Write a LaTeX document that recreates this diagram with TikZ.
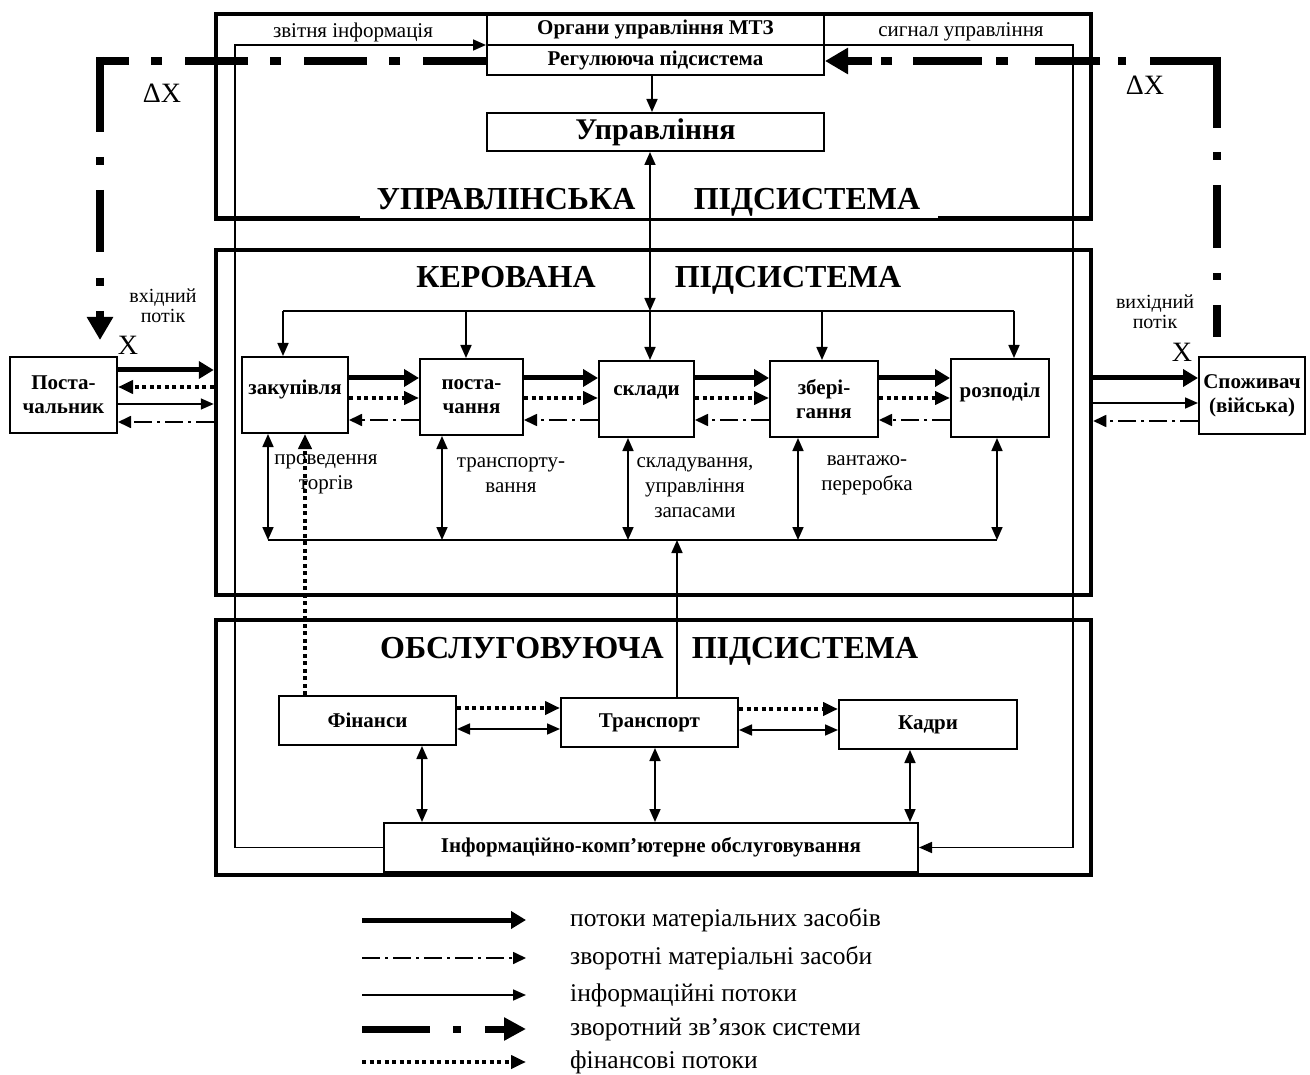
\documentclass[tikz,border=0pt]{standalone}
\usepackage{fontspec}
\setmainfont{Liberation Serif}
\usetikzlibrary{arrows.meta}
\begin{document}
\begin{tikzpicture}[x=1pt,y=-1pt,
 frame/.style={draw,line width=4.5pt,inner sep=0pt},
 box/.style={draw,line width=2pt,inner sep=1pt,align=center,font=\bfseries\fontsize{21}{24}\selectfont},
 up6/.style={text depth=16pt},
 lbl/.style={inner sep=0pt,align=center,font=\fontsize{21}{25}\selectfont},
 lbls/.style={inner sep=0pt,align=center,font=\fontsize{20}{20}\selectfont},
 ttl/.style={inner sep=0pt,anchor=base,font=\bfseries\fontsize{32}{36}\selectfont},
 big/.style={inner sep=0pt,font=\fontsize{28}{30}\selectfont},
 leg/.style={inner sep=0pt,anchor=base west,font=\fontsize{25.5}{28}\selectfont},
 info/.style={line width=1.7pt,-{Triangle[length=13pt,width=11pt]}},
 info2/.style={line width=1.7pt,{Triangle[length=13pt,width=11pt]}-{Triangle[length=13pt,width=11pt]}},
 plain/.style={line width=1.7pt},
 matf/.style={line width=5pt,-{Triangle[length=15pt,width=17pt]}},
 finf/.style={line width=4pt,dash pattern=on 4pt off 3.5pt,-{Triangle[length=15pt,width=13pt]}},
 retf/.style={line width=1.7pt,dash pattern=on 18pt off 5pt on 3pt off 5pt,-{Triangle[length=13pt,width=12pt]}},
 fbline/.style={line width=8pt},
 fbtip/.style={-{Triangle[length=23pt,width=25pt]}},
 fbleg/.style={line width=7pt,dash pattern=on 68pt off 23pt on 8pt off 24pt on 100pt off 1pt,-{Triangle[length=22pt,width=22pt]}},
]
\useasboundingbox (0,0) rectangle (1310,1075);
% frames
\node[frame,minimum width=875pt,minimum height=204.5pt] (ftop) at (653.5,116.25) {};
\node[frame,minimum width=875pt,minimum height=345pt] (fmid) at (653.5,422.5) {};
\node[frame,minimum width=875pt,minimum height=255pt] (fbot) at (653.5,747.5) {};
\fill[white] (360,183) rectangle (938,217.8);
% titles
\node[ttl] (t1a) at (506,209.5) {УПРАВЛІНСЬКА};
\node[ttl] (t1b) at (807,209.5) {ПІДСИСТЕМА};
\node[ttl] (t2a) at (506,287.5) {КЕРОВАНА};
\node[ttl] (t2b) at (788,287.5) {ПІДСИСТЕМА};
\node[ttl] (t3a) at (522,658.5) {ОБСЛУГОВУЮЧА};
\node[ttl] (t3b) at (805,658.5) {ПІДСИСТЕМА};
% boxes
\node[box,minimum width=337pt,minimum height=31pt] (org) at (655.5,29.5) {Органи управління МТЗ};
\node[box,minimum width=337pt,minimum height=30pt] (reg) at (655.5,60) {Регулююча підсистема};
\node[box,minimum width=337pt,minimum height=38pt,font=\bfseries\fontsize{30}{34}\selectfont] (upr) at (655.5,132) {Управління};
\node[box,up6,minimum width=106pt,minimum height=76pt] (zak) at (295,395) {закупівля};
\node[box,minimum width=103pt,minimum height=76pt] (post) at (471.5,397) {поста-\\чання};
\node[box,up6,minimum width=95pt,minimum height=76pt] (skl) at (646.5,399) {склади};
\node[box,minimum width=108pt,minimum height=76pt] (zber) at (824,399) {збері-\\гання};
\node[box,up6,minimum width=98pt,minimum height=78pt] (rozp) at (1000,398) {розподіл};
\node[box,minimum width=107pt,minimum height=76pt] (postach) at (63.5,395) {Поста-\\чальник};
\node[box,minimum width=106pt,minimum height=77pt] (spoz) at (1252,395.5) {Споживач\\(війська)};
\node[box,minimum width=177pt,minimum height=49pt] (nfin) at (367.5,720.5) {Фінанси};
\node[box,minimum width=177pt,minimum height=49pt] (trans) at (649.5,722.5) {Транспорт};
\node[box,minimum width=178pt,minimum height=49pt] (kadr) at (928,724.5) {Кадри};
\node[box,minimum width=534pt,minimum height=49pt] (inf) at (651,847.5) {Інформаційно-комп’ютерне обслуговування};
% labels
\node[lbl] (lprov) at (326,474.5) {проведення\\торгів};
\node[lbl] (ltr) at (511,475.5) {транспорту-\\вання};
\node[lbl] (lskl) at (695,488) {складування,\\управління\\запасами};
\node[lbl] (lvan) at (867,475.5) {вантажо-\\переробка};
\node[lbl] (lzv) at (353,32) {звітня інформація};
\node[lbl] (lsig) at (961,32) {сигнал управління};
\node[lbls] (lin) at (163,306) {вхідний\\потік};
\node[lbls] (lout) at (1155,312) {вихідний\\потік};
\node[big] (x1) at (128,345) {X};
\node[big] (x2) at (1182,352) {X};
\node[big] (dx1) at (162,93) {ΔX};
\node[big] (dx2) at (1145,85) {ΔX};
% top connections
\draw[info] (reg.south -| 652,0) -- (upr.north -| 652,0);
\coordinate (t1) at (283,311);
\coordinate (t2) at (466,311);
\coordinate (t3) at (650,311);
\coordinate (t4) at (822,311);
\coordinate (t5) at (1014,311);
\draw[info2] (upr.south -| t3) -- (t3);
\draw[plain] (t1) -- (t5);
\draw[info] (t1) -- (t1 |- zak.north);
\draw[info] (t2) -- (t2 |- post.north);
\draw[info] (t3) -- (t3 |- skl.north);
\draw[info] (t4) -- (t4 |- zber.north);
\draw[info] (t5) -- (t5 |- rozp.north);
% lower bus
\coordinate (b1) at (268,540);
\coordinate (b2) at (442,540);
\coordinate (b3) at (628,540);
\coordinate (b4) at (798,540);
\coordinate (b5) at (997,540);
\coordinate (b6) at (677,540);
\draw[plain] (b1) -- (b5);
\draw[info2] (b1 |- zak.south) -- (b1);
\draw[info2] (b2 |- post.south) -- (b2);
\draw[info2] (b3 |- skl.south) -- (b3);
\draw[info2] (b4 |- zber.south) -- (b4);
\draw[info2] (b5 |- rozp.south) -- (b5);
\draw[info] (trans.north -| b6) -- (b6);
\draw[finf] (nfin.north -| 305,0) -- (zak.south -| 305,0);
% flows between stages
\foreach \a/\b in {zak/post,post/skl,skl/zber,zber/rozp}{
 \draw[matf] (\a.east |- 0,378) -- (\b.west |- 0,378);
 \draw[finf] (\a.east |- 0,398) -- (\b.west |- 0,398);
 \draw[retf] (\b.west |- 0,420) -- (\a.east |- 0,420);
}
% side flows
\draw[matf] (postach.east |- 0,370) -- (fmid.west |- 0,370);
\draw[finf] (fmid.west |- 0,387) -- (postach.east |- 0,387);
\draw[info] (postach.east |- 0,404) -- (fmid.west |- 0,404);
\draw[retf] (fmid.west |- 0,422) -- (postach.east |- 0,422);
\draw[matf] (fmid.east |- 0,378) -- (spoz.west |- 0,378);
\draw[info] (fmid.east |- 0,403) -- (spoz.west |- 0,403);
\draw[retf] (spoz.west |- 0,421) -- (fmid.east |- 0,421);
% service subsystem
\draw[finf] (nfin.east |- 0,708) -- (trans.west |- 0,708);
\draw[info2] (nfin.east |- 0,729) -- (trans.west |- 0,729);
\draw[finf] (trans.east |- 0,709) -- (kadr.west |- 0,709);
\draw[info2] (trans.east |- 0,730) -- (kadr.west |- 0,730);
\draw[info2] (nfin.south -| 422,0) -- (inf.north -| 422,0);
\draw[info2] (trans.south -| 655,0) -- (inf.north -| 655,0);
\draw[info2] (kadr.south -| 910,0) -- (inf.north -| 910,0);
% info loop
\coordinate (cl) at (235,45);
\coordinate (cr) at (1073,45);
\draw[info] (inf.west) -| (cl) -- (cl -| reg.west);
\draw[info] (org.east |- cr) -- (cr) |- (inf.east);
% feedback (left: regulating subsystem -> supplier)
\coordinate (fl) at (100,61);
\coordinate (fr) at (1217,61);
\draw[fbline,dash pattern=on 63pt off 23pt on 11pt off 22pt] (reg.west |- fl) -- (fl);
\draw[fbline,fbtip,shorten <=-4pt,shorten >=16pt,
  dash pattern=on 75pt off 25pt on 8pt off 25pt on 62pt off 26pt on 8pt off 25pt on 200pt off 1pt]
  (fl) -- (fl |- postach.north);
% feedback (right: consumer -> regulating subsystem)
\draw[fbline,shorten <=-4pt,shorten >=19pt,
  dash pattern=on 71pt off 24pt on 8pt off 25pt on 63pt off 25pt on 7pt off 25pt on 100pt off 1pt]
  (fr) -- (fr |- spoz.north);
\draw[fbline,fbtip,
  dash pattern=on 67pt off 24pt on 8pt off 18pt on 65pt off 27pt on 12pt off 14pt on 69pt off 21pt on 11pt off 9pt on 100pt off 1pt]
  (fr) -- (reg.east |- fr);
% legend
\coordinate (la1) at (362,920); \coordinate (lb1) at (526,920);
\coordinate (la2) at (362,958); \coordinate (lb2) at (526,958);
\coordinate (la3) at (362,995); \coordinate (lb3) at (526,995);
\coordinate (la4) at (362,1029); \coordinate (lb4) at (526,1029);
\coordinate (la5) at (362,1062); \coordinate (lb5) at (526,1062);
\draw[matf] (la1) -- (lb1);
\draw[retf] (la2) -- (lb2);
\draw[info] (la3) -- (lb3);
\draw[fbleg] (la4) -- (lb4);
\draw[finf] (la5) -- (lb5);
\node[leg] (lt1) at (570,926) {потоки матеріальних засобів};
\node[leg] (lt2) at (570,964) {зворотні матеріальні засоби};
\node[leg] (lt3) at (570,1001) {інформаційні потоки};
\node[leg] (lt4) at (570,1035) {зворотний зв’язок системи};
\node[leg] (lt5) at (570,1068) {фінансові потоки};
\end{tikzpicture}
\end{document}
